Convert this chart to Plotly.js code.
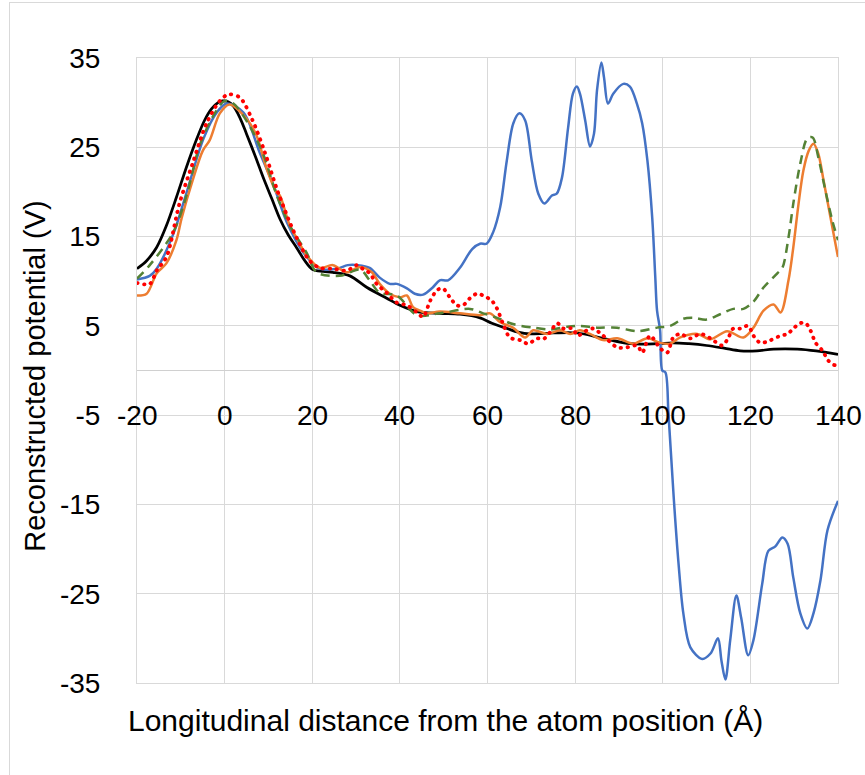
<!DOCTYPE html>
<html>
<head>
<meta charset="utf-8">
<script src="https://cdn.plot.ly/plotly-3.0.1.min.js"></script>
<style>
  html, body { margin: 0; padding: 0; background: #fff; }
  #wrap { position: relative; width: 865px; height: 775px; overflow: hidden; }
  #chart { width: 865px; height: 775px; }
  #frame { position: absolute; left: 9px; top: 2px; width: 900px; height: 900px;
           border: 1px solid #d9d9d9; pointer-events: none; }
</style>
</head>
<body>
<div id="wrap"><div id="chart"></div><div id="frame"></div></div>
<script>
// ---- data ----
const blackX = [-20, -17.8, -15.5, -13.3, -11, -8.7, -6.4, -4.6, -3, -1.5, -0.5, 0.8, 2, 3.5, 5, 7, 8.9, 10.8, 12.6, 14.5, 16.5, 18.3, 20.1, 22.5, 24.7, 28.6, 32.5, 37, 40, 43.9, 49.1, 53.7, 58.3, 61, 64.5, 67, 69.7, 75, 80.5, 86.4, 92.6, 98.7, 102.4, 106, 110, 114, 117.7, 121.5, 125.3, 130.7, 135, 140];
const blackY = [11.4, 12.3, 13.8, 16.2, 19.4, 22.8, 25.9, 28, 29.3, 30, 30.2, 30.1, 29.6, 28.3, 26.5, 24, 21.5, 19.2, 17, 15.2, 13.7, 12.3, 11.3, 11.1, 11, 10.6, 9.3, 8.1, 7.3, 6.6, 6.4, 6.3, 5.9, 5.3, 4.7, 4.3, 4.1, 4.2, 4.2, 3.6, 3.0, 3.0, 3.1, 3.0, 2.8, 2.5, 2.2, 2.2, 2.4, 2.4, 2.2, 1.8];

const blueX = [-20, -17.1, -15.5, -11.7, -8.7, -4.8, -1.8, 0.5, 4.3, 8, 11.2, 14.2, 18, 21.7, 25.6, 28.1, 30.4, 33.1, 35.4, 37.7, 39.3, 41.6, 43.4, 45.3, 47.5, 49.1, 51, 53.7, 56.5, 58.3, 59.8, 61.3, 62.9, 64.4, 65.9, 67.3, 68.6, 70.1, 71.6, 73, 74.7, 75.8, 77, 78.4, 79.5, 80.4, 81.1, 82.3, 83.4, 84.3, 85, 86, 86.6, 87.5, 88.7, 91, 92.5, 94.1, 95.3, 96.5, 97.6, 98.3, 98.7, 99.4, 99.9, 100.6, 101.3, 102.5, 103.6, 104.7, 106.3, 109, 110.9, 112.6, 113.4, 114.3, 115.4, 116.8, 117.9, 119.5, 120.7, 122.7, 124.1, 125.7, 127.3, 128.5, 129.8, 131.4, 133, 134.4, 136, 137.6, 140];
const blueY = [10.2, 10.6, 11.4, 15.3, 19.9, 26, 28.9, 29.9, 28.9, 24.4, 20.7, 16.6, 13.2, 11.4, 11.4, 11.8, 11.8, 11.5, 10.4, 9.7, 9.7, 9.2, 8.6, 8.5, 9.3, 10.1, 10.1, 11.5, 13.6, 14.2, 14.2, 15.5, 18.3, 23.5, 27.7, 28.8, 28, 23.5, 19.8, 18.7, 19.6, 19.8, 21.6, 27.2, 31, 31.8, 31, 28, 25.1, 26.5, 31.4, 34.5, 32.8, 29.9, 31, 32.1, 31.8, 29.9, 27.7, 23.5, 17.1, 10.4, 6.7, 4.5, 0, -0.2, -4.8, -14.2, -21.6, -27.2, -31, -32.3, -31.7, -30, -32.5, -34.6, -30.2, -25.2, -27.7, -31.9, -30.2, -23.9, -20.2, -19.7, -18.7, -19.4, -23.2, -27.2, -28.9, -27.2, -23.5, -17.9, -14.6];

const orangeX = [-20, -17.8, -15.5, -13.3, -11, -9.8, -7.3, -5, -3.4, -1.1, 1.1, 5, 7.3, 9.6, 11.9, 12.6, 14.9, 16.5, 18.7, 21.7, 24.7, 27.9, 30.9, 33.6, 35.4, 37.7, 40, 41.6, 43, 44.6, 46.2, 49.1, 53.7, 58.3, 60.6, 62.9, 65.8, 68.6, 70.4, 73.6, 76.6, 78.9, 81.1, 83.4, 86.4, 89.6, 93.3, 96.5, 99.4, 101.7, 104, 107.9, 110.9, 114.7, 118.4, 120.7, 123, 125.3, 126.9, 128.7, 129.8, 131, 132.1, 133.3, 134.4, 135.5, 136.7, 138.3, 140];
const orangeY = [8.4, 8.6, 10.9, 12, 14.6, 17.1, 21.3, 24.6, 25.8, 28.8, 29.8, 28.2, 26.3, 22.6, 19.9, 19.6, 16.2, 14.8, 12.9, 11.5, 11.8, 11, 11.6, 11, 9.7, 8.6, 8.2, 8.4, 7.1, 6.7, 6.4, 6.6, 6.4, 6.2, 6.4, 5.4, 4.8, 3.7, 4.5, 4.1, 4.5, 4.1, 4.5, 4.1, 3.4, 3.6, 3.0, 3.6, 3.1, 3.0, 3.7, 4.1, 3.5, 4.4, 3.7, 4.8, 6.7, 7.4, 6.5, 10.1, 13.8, 18.7, 22.4, 24.6, 25.4, 24.3, 21.3, 17.1, 12.7];

const greenX = [-20, -17.1, -11.7, -8.7, -5.7, -2.5, 0, 2, 5.7, 8.9, 11.9, 14.9, 18.7, 21, 26.3, 30.9, 33.1, 35.4, 39.3, 43.9, 49.1, 56, 59, 62.2, 65.8, 70.4, 74.3, 78.2, 81.1, 85, 89.6, 94.2, 98.7, 101.7, 104.7, 107, 110, 113.1, 116.1, 118.4, 120.7, 123, 126.2, 127.3, 128.7, 129.8, 131.4, 133, 134.2, 135.5, 137.1, 138.7, 140];
const greenY = [10.3, 11.8, 15.5, 19.6, 25.2, 28.6, 30.2, 29.9, 27.4, 24.1, 19.6, 16.2, 13.2, 11, 10.6, 11.3, 10.1, 8.7, 8.4, 6.2, 6.4, 6.9, 6.4, 5.9, 5.2, 4.8, 4.6, 4.9, 5, 4.8, 4.8, 4.4, 4.8, 5, 5.8, 5.9, 5.7, 6.3, 6.9, 6.9, 7.7, 9.3, 10.9, 11.5, 14.9, 18.7, 23.2, 26, 26.1, 23.9, 20.2, 16.8, 14.6];

const redX = [-20, -17.1, -15.5, -13.3, -10.3, -7.3, -4.1, -1.1, 0.8, 3.4, 6.3, 9.2, 12.3, 16.5, 19.4, 21.7, 24.7, 27.9, 30.2, 31.5, 33.1, 34.7, 37, 39.3, 41.6, 43.9, 45.3, 46.9, 48.5, 49.8, 51.4, 53, 54.4, 56, 57.6, 59, 61, 62.2, 63.5, 65.1, 67.4, 69.3, 71.3, 72.7, 74.3, 75.9, 77.3, 79.5, 80.5, 82.7, 84.1, 86.4, 89.6, 91.9, 94.2, 95.3, 97.1, 99.4, 101, 102.4, 104, 106.3, 108.6, 110.9, 113.6, 115, 116.1, 117.7, 119.5, 120.7, 122.3, 124.6, 126.9, 128.5, 129.8, 131.4, 132.6, 133.7, 134.9, 136.5, 137.8, 139.4, 140];
const redY = [9.8, 9.7, 11.2, 12.7, 18.7, 23.2, 27.7, 30.2, 30.9, 30.6, 28.1, 24.4, 19.8, 14.8, 12.3, 11.5, 11.4, 11.2, 11.8, 11.4, 10.9, 9.7, 8.7, 7.6, 7.3, 6.5, 6, 7.8, 9, 9.2, 8.2, 7.3, 7.3, 8.1, 8.6, 8.4, 7.8, 6.9, 5.3, 3.7, 3.4, 3, 3.6, 3.5, 4.3, 5.3, 4.7, 4.7, 3.9, 4.5, 4.7, 3.9, 2.6, 2.6, 2.8, 2, 3.9, 2.5, 2, 3.7, 4.1, 3.6, 4.1, 3.6, 2.8, 3.7, 4.7, 4.7, 5, 3.9, 3.1, 3.4, 3.9, 4.1, 4.7, 5.3, 5.3, 4.5, 3.1, 2.2, 1.1, 0.6, 1.1];

const xTicks = [-20, 0, 20, 40, 60, 80, 100, 120, 140];
const xTickLabels = ['-20', '0', '20', '40', '60', '80', '100', '120', '140'];
const yTicks = [-35, -25, -15, -5, 5, 15, 25, 35];
const yTickLabels = ['-35', '-25', '-15', '-5', '5', '15', '25', '35'];
const xTitle = 'Longitudinal distance from the atom position (Å)';
const yTitle = 'Reconstructed potential (V)';

// ---- chart ----
const FONT = 'Liberation Sans, Arial, sans-serif';
const mk = (x, y, color, dash, width) => ({
  x: x, y: y, type: 'scatter', mode: 'lines',
  line: { color: color, width: width, dash: dash, shape: 'spline', smoothing: 0.9 },
  hoverinfo: 'skip', showlegend: false
});

const traces = [
  mk(blackX, blackY, '#000000', 'solid', 2.75),
  mk(blueX, blueY, '#4472C4', 'solid', 2.5),
  mk(orangeX, orangeY, '#ED7D31', 'solid', 2.5),
  mk(greenX, greenY, '#548235', '9px,6px', 2.5),
  mk(redX, redY, '#FF0000', '0.5px,6.5px', 3.8)
];

const annotations = xTicks.map((v, i) => ({
  x: v, y: -5, xref: 'x', yref: 'y', text: xTickLabels[i], showarrow: false,
  xanchor: 'center', yanchor: 'middle', font: { family: FONT, size: 28, color: '#000' }
}));
annotations.push({
  x: 0.44, y: -0.06, xref: 'paper', yref: 'paper', text: xTitle, showarrow: false,
  xanchor: 'center', yanchor: 'middle', font: { family: FONT, size: 30, color: '#000' }
});
annotations.push({
  x: -0.1455, y: 0.49, xref: 'paper', yref: 'paper', text: yTitle, showarrow: false,
  textangle: -90, xanchor: 'center', yanchor: 'middle', font: { family: FONT, size: 29, color: '#000' }
});

const layout = {
  width: 865, height: 775,
  margin: { l: 137, r: 27, t: 58, b: 92, pad: 0 },
  paper_bgcolor: '#ffffff', plot_bgcolor: '#ffffff',
  font: { family: FONT, size: 28, color: '#000' },
  xaxis: {
    range: [-20, 140], tickvals: xTicks, showticklabels: false,
    showgrid: true, gridcolor: '#d9d9d9', gridwidth: 1,
    zeroline: false, showline: true, linecolor: '#d9d9d9', mirror: true, ticks: ''
  },
  yaxis: {
    range: [-35, 35], tickvals: yTicks, ticktext: yTickLabels, ticks: '', ticklabelstandoff: 30,
    tickfont: { family: FONT, size: 28, color: '#000' },
    showgrid: true, gridcolor: '#d9d9d9', gridwidth: 1,
    zeroline: true, zerolinecolor: '#d0d0d0', zerolinewidth: 1.5,
    showline: true, linecolor: '#d9d9d9', mirror: true
  },
  annotations: annotations
};

Plotly.newPlot('chart', traces, layout, { displayModeBar: false, staticPlot: true }).then(() => {
  // round caps so the dotted series is drawn as round dots
  const lines = document.querySelectorAll('#chart .scatterlayer .trace path.js-line');
  if (lines.length >= 5) lines[4].style.strokeLinecap = 'round';
});
</script>
</body>
</html>
